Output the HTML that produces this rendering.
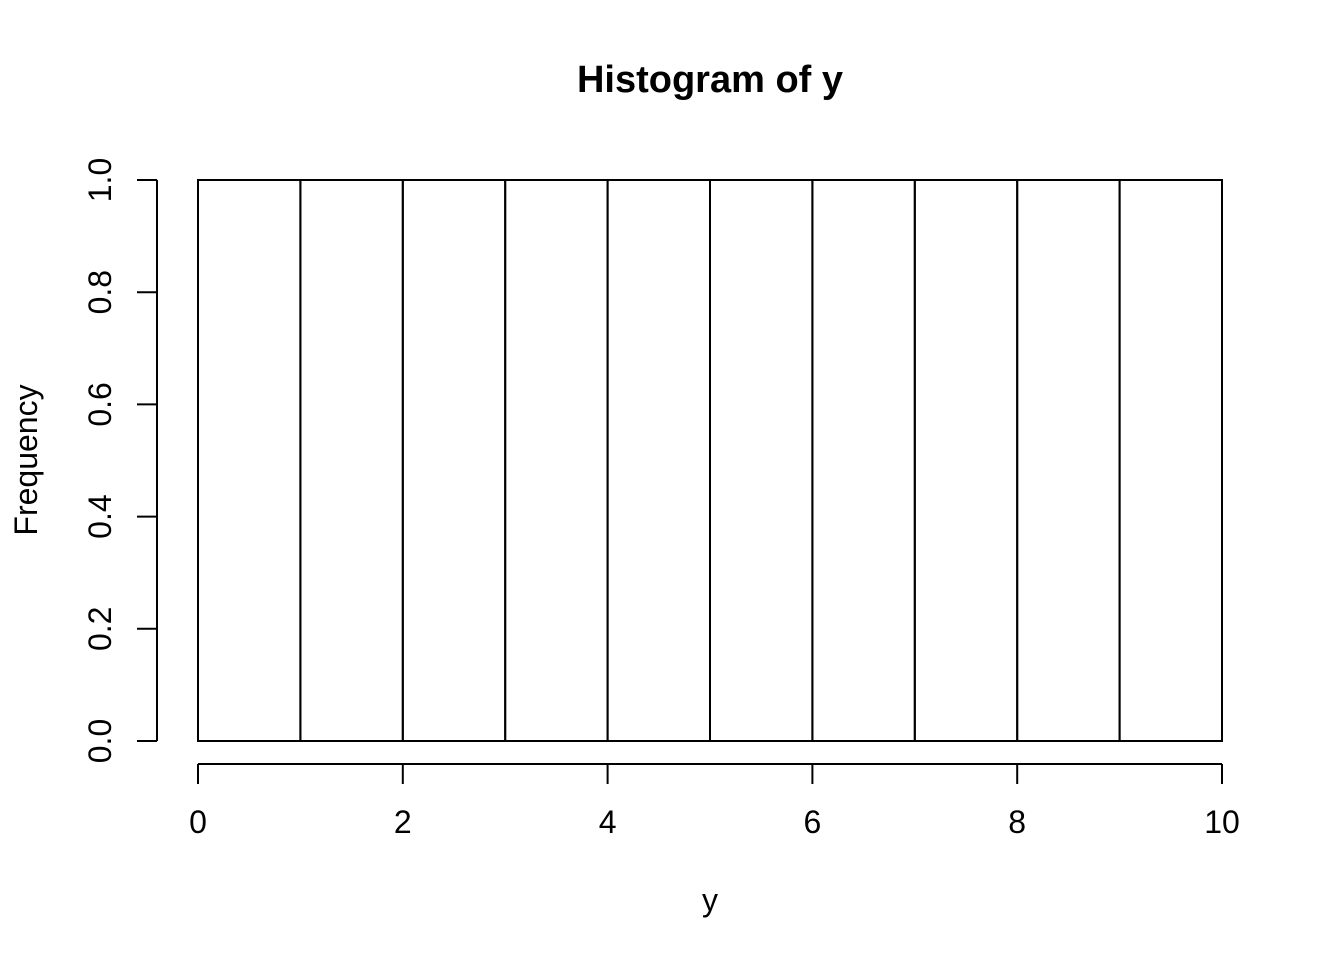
<!DOCTYPE html>
<html>
<head>
<meta charset="utf-8">
<style>
  html, body { margin: 0; padding: 0; background: #fff; }
  svg { display: block; }
  text { font-family: "Liberation Sans", Arial, sans-serif; fill: #000; }
</style>
</head>
<body>
<svg id="chart" width="1344" height="960" viewBox="0 0 1344 960">
  <text x="710" y="92" font-size="38" font-weight="bold" text-anchor="middle">Histogram of y</text>
  <text x="710" y="911" font-size="32" text-anchor="middle">y</text>
  <text transform="translate(37,460) rotate(-90)" font-size="32" text-anchor="middle">Frequency</text>
  <g id="bars"></g>
  <g id="xaxis"></g>
  <g id="yaxis"></g>
</svg>
<script>
const binEdges = [0, 1, 2, 3, 4, 5, 6, 7, 8, 9, 10];
const counts = [1, 1, 1, 1, 1, 1, 1, 1, 1, 1];
const xTicks = [0, 2, 4, 6, 8, 10];
const yTicks = [0, 0.2, 0.4, 0.6, 0.8, 1.0];
const yTickLabels = ["0.0", "0.2", "0.4", "0.6", "0.8", "1.0"];

const NS = "http://www.w3.org/2000/svg";
const X0 = 198, X1 = 1222, Y0 = 741, Y1 = 180;
const xMin = 0, xMax = 10, yMin = 0, yMax = 1;
function sx(v) { return X0 + (v - xMin) / (xMax - xMin) * (X1 - X0); }
function sy(v) { return Y0 - (v - yMin) / (yMax - yMin) * (Y0 - Y1); }
function mk(tag, attrs, parent) {
  const e = document.createElementNS(NS, tag);
  for (const k in attrs) e.setAttribute(k, attrs[k]);
  parent.appendChild(e);
  return e;
}

const bars = document.getElementById('bars');
counts.forEach((c, i) => {
  const x = sx(binEdges[i]), x2 = sx(binEdges[i + 1]);
  const r = mk('rect', {x: x, y: sy(c), width: x2 - x, height: sy(0) - sy(c), fill: 'none', stroke: '#000', 'stroke-width': 2}, bars);
  
  
});

const xa = document.getElementById('xaxis');
const axY = 764;
mk('line', {x1: sx(xTicks[0]), x2: sx(xTicks[xTicks.length - 1]), y1: axY, y2: axY, stroke: '#000', 'stroke-width': 2}, xa);
xTicks.forEach(t => {
  const x = sx(t);
  mk('line', {x1: x, x2: x, y1: axY, y2: axY + 20, stroke: '#000', 'stroke-width': 2}, xa);
  const tx = mk('text', {x: x, y: 833, 'font-size': 32, 'text-anchor': 'middle'}, xa);
  tx.textContent = String(t);
  
  
});

const ya = document.getElementById('yaxis');
const axX = 157;
mk('line', {x1: axX, x2: axX, y1: sy(yTicks[0]), y2: sy(yTicks[yTicks.length - 1]), stroke: '#000', 'stroke-width': 2}, ya);
yTicks.forEach((t, i) => {
  const y = sy(t);
  mk('line', {x1: axX - 20, x2: axX, y1: y, y2: y, stroke: '#000', 'stroke-width': 2}, ya);
  const tx = mk('text', {transform: 'translate(111,' + y + ') rotate(-90)', 'font-size': 32, 'text-anchor': 'middle'}, ya);
  tx.textContent = yTickLabels[i];
  
  
});
</script>
</body>
</html>
